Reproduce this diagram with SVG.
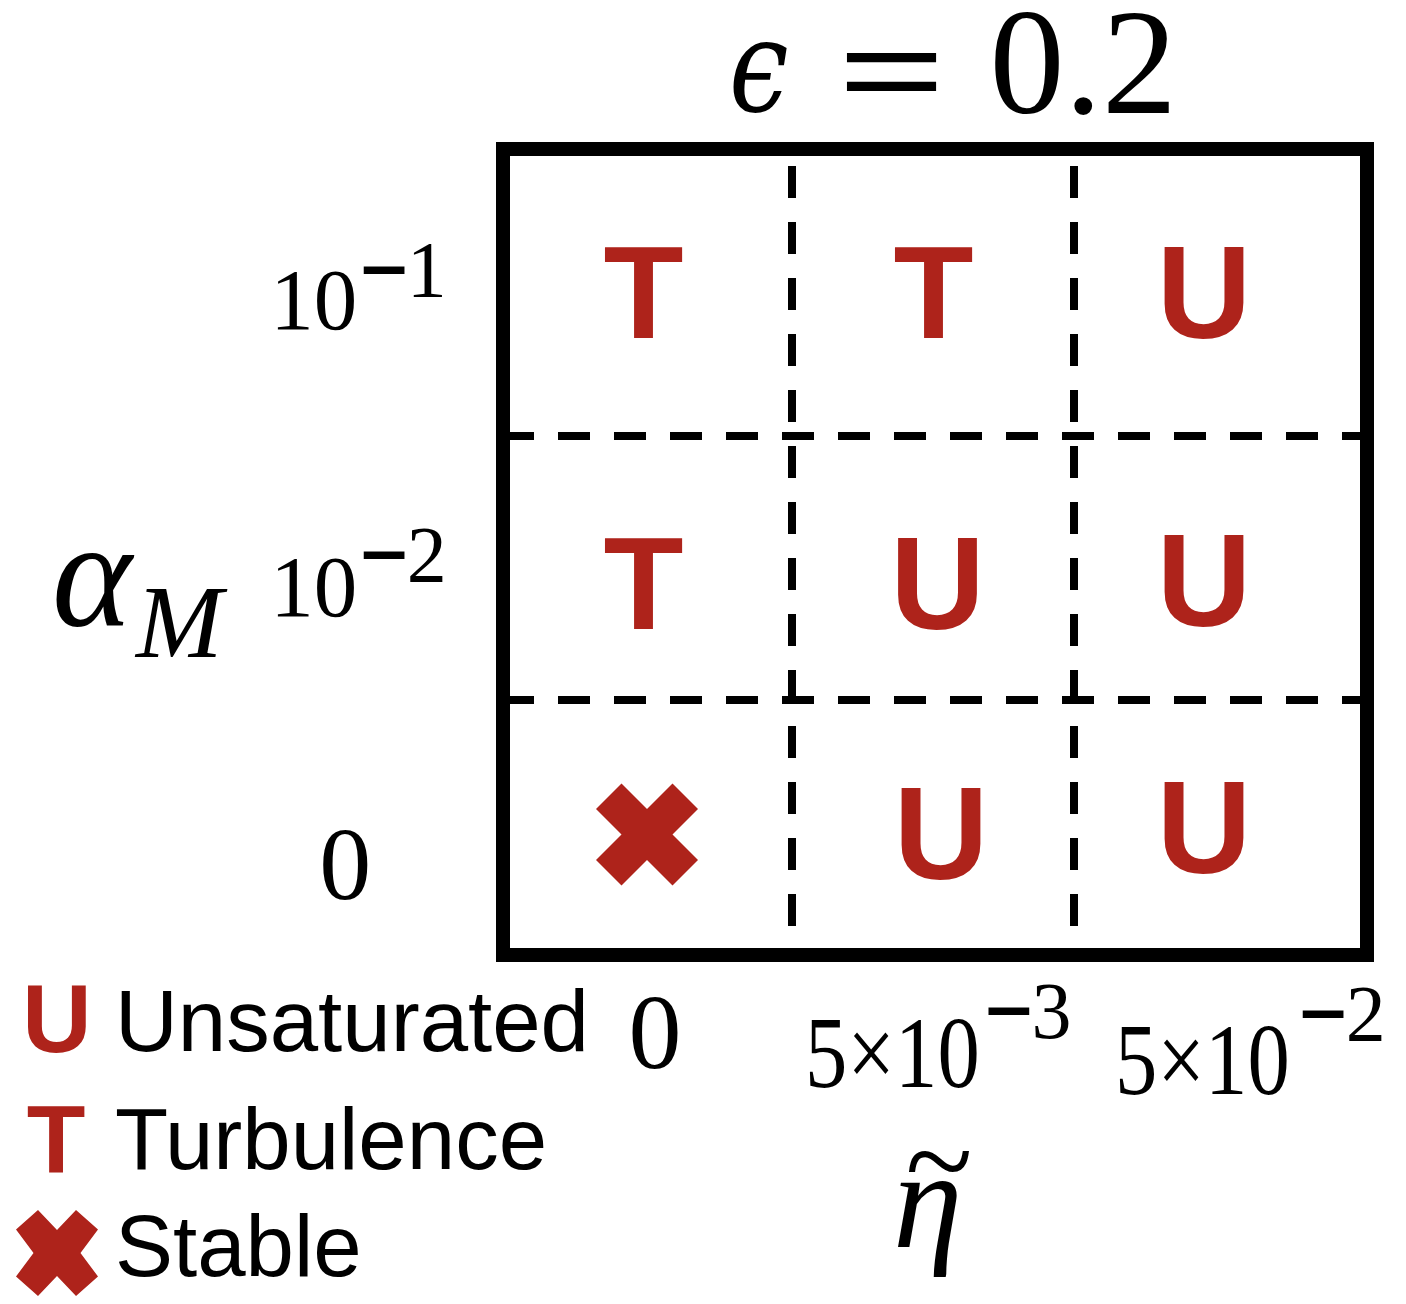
<svg xmlns="http://www.w3.org/2000/svg" width="1406" height="1304" viewBox="0 0 1406 1304">
<style>
.st{font-family:"Liberation Sans",Arial,sans-serif;font-weight:bold;fill:#ae231b;text-anchor:middle}
.lg{font-family:"Liberation Sans",Arial,sans-serif;font-size:87px;fill:#000}
.m{font-family:"Liberation Serif","Times New Roman",serif;fill:#000}
.mi{font-family:"Liberation Serif","Times New Roman",serif;font-style:italic;fill:#000}
.mn{stroke:#000;stroke-width:3.5}
.dash{stroke:#000;stroke-width:8;stroke-dasharray:32 24;fill:none}
.x{fill:#ae231b}
</style>
<g id="title">
<text class="mi" transform="translate(729,111) scale(0.82,1)" font-size="130" style="font-family:'DejaVu Serif',serif">ϵ</text>
<text class="m" transform="translate(891.5,120) scale(1.3,1)" font-size="143" text-anchor="middle" stroke="#000" stroke-width="2">=</text>
<text class="m" x="989.5" y="113" font-size="150">0.2</text>
</g>
<g id="connectors">
<line class="dash" x1="502" y1="436" x2="1360" y2="436"/>
<line class="dash" x1="502" y1="700" x2="1360" y2="700"/>
<line class="dash" x1="792" y1="166" x2="792" y2="926"/>
<line class="dash" x1="1074" y1="166" x2="1074" y2="926"/>
</g>
<g id="frame">
<rect x="503" y="149" width="864" height="806" fill="none" stroke="#000" stroke-width="14"/>
</g>
<g id="cell-r1c1"><text class="st" x="643.5" y="338" font-size="131">T</text></g>
<g id="cell-r1c2"><text class="st" x="933.5" y="338" font-size="131">T</text></g>
<g id="cell-r1c3"><text class="st" x="1204" y="338" font-size="131">U</text></g>
<g id="cell-r2c1"><text class="st" x="643.5" y="629" font-size="131">T</text></g>
<g id="cell-r2c2"><text class="st" x="937.5" y="629" font-size="131">U</text></g>
<g id="cell-r2c3"><text class="st" x="1204" y="625.5" font-size="131">U</text></g>
<g id="cell-r3c1"><polygon class="x" points="647,809 672.5,783.5 698,809 672.5,834.5 698,860 672.5,885.5 647,860 621.5,885.5 596,860 621.5,834.5 596,809 621.5,783.5"/></g>
<g id="cell-r3c2"><text class="st" x="941" y="879" font-size="131">U</text></g>
<g id="cell-r3c3"><text class="st" x="1204" y="873" font-size="131">U</text></g>
<g id="y-axis">
<text class="mi" x="52" y="626" font-size="152">α</text>
<text class="mi" x="136" y="657" font-size="104">M</text>
<text class="m" x="270.3" y="328.5" font-size="87">10<tspan class="mn" x="361.5" y="296.5" font-size="80">−</tspan><tspan font-size="80">1</tspan></text>
<text class="m" x="270.3" y="615.5" font-size="87">10<tspan class="mn" x="361.5" y="581.5" font-size="80">−</tspan><tspan font-size="80">2</tspan></text>
<text class="m" x="345.3" y="898.5" font-size="104" text-anchor="middle">0</text>
</g>
<g id="x-axis">
<text class="m" x="655" y="1067.5" font-size="106" text-anchor="middle">0</text>
<text class="m" transform="translate(805,1087) scale(0.83,1)" font-size="102">5×10</text>
<text class="m" x="986.3" y="1038" font-size="80"><tspan class="mn">−</tspan>3</text>
<text class="m" transform="translate(1115,1094) scale(0.83,1)" font-size="102">5×10</text>
<text class="m" x="1300.6" y="1041" font-size="80"><tspan class="mn">−</tspan>2</text>
<text class="mi" x="893" y="1247" font-size="140">η<tspan x="905.5" y="1203" font-size="124" style="font-style:normal">~</tspan></text>
</g>
<g id="legend">
<text class="st" x="57" y="1052" font-size="96">U</text>
<text class="lg" x="115" y="1051">Unsaturated</text>
<text class="st" x="56" y="1172.5" font-size="96">T</text>
<text class="lg" x="115" y="1169">Turbulence</text>
<polygon class="x" points="57,1230 76,1210 98,1229.5 80.5,1253 98,1276.5 76,1296 57,1276 38,1296 16,1276.5 33.5,1253 16,1229.5 38,1210"/>
<text class="lg" x="115" y="1276">Stable</text>
</g>
</svg>
